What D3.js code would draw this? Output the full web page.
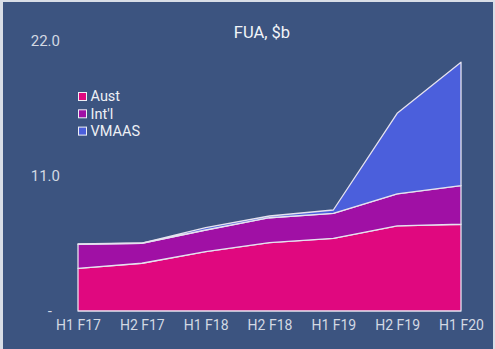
<!DOCTYPE html>
<html><head><meta charset="utf-8">
<script src="https://cdn.jsdelivr.net/npm/d3@7/dist/d3.min.js"></script>
<style>
html,body{margin:0;padding:0;background:#d9dee7;}
svg{display:block;font-family:Roboto,"Noto Sans",sans-serif;}
</style></head>
<body>
<svg id="c" width="495" height="349"></svg>
<script>
const categories = ["H1 F17","H2 F17","H1 F18","H2 F18","H1 F19","H2 F19","H1 F20"];
const aust  = [3.48, 3.89, 4.83, 5.57, 5.92, 6.93, 7.07];
const intl  = [1.96, 1.63, 1.77, 2.03, 2.04, 2.61, 3.14];
const vmaas = [0.02, 0.02, 0.19, 0.14, 0.27, 6.57, 10.06];
const seriesNames = ["Aust","Int'l","VMAAS"];
const colors = ["#e0087f","#a010a5","#4b5fdc"];
const yTicks = [0, 11, 22];
const title = "FUA, $b";

const svg = d3.select("#c");
svg.append("rect").attr("x",3).attr("y",2).attr("width",490).attr("height",347).attr("fill","#3c5480");

const rows = categories.map((c,i)=>({cat:c, "Aust":aust[i], "Int'l":intl[i], "VMAAS":vmaas[i]}));
const stack = d3.stack().keys(seriesNames)(rows);

const x = d3.scalePoint().domain(categories).range([78,461]);
const y = d3.scaleLinear().domain([0,22]).range([311,41]);

const area = d3.area().x(d=>x(d.data.cat)).y0(d=>y(d[0])).y1(d=>y(d[1]));

svg.append("g").selectAll("path").data(stack).join("path")
  .attr("d",area).attr("fill",(d,i)=>colors[i])
  .attr("stroke","#e6e3ef").attr("stroke-width",1.3).attr("stroke-linejoin","round");

svg.append("text").attr("x",262).attr("y",38).attr("text-anchor","middle")
  .attr("fill","#f2f4f8").attr("font-size",16.5).text(title);

const yAxis = d3.axisLeft(y).tickValues(yTicks).tickSize(0).tickPadding(0)
  .tickFormat(v=> v===0 ? "-" : d3.format(".1f")(v));
const gy = svg.append("g").attr("transform","translate(60,0)").call(yAxis);
gy.select(".domain").remove();
gy.selectAll("text").attr("fill","#d3d9e3").attr("font-size",15).attr("font-family","Roboto,sans-serif")
  .attr("x",d=> d===0 ? -8 : 0);

const xAxis = d3.axisBottom(x).tickSize(0).tickPadding(0);
const gx = svg.append("g").attr("transform","translate(0,320)").call(xAxis);
gx.select(".domain").remove();
gx.selectAll("text").attr("fill","#d3d9e3").attr("font-size",14).attr("font-family","Roboto,sans-serif");

const lg = svg.append("g").attr("transform","translate(78,92)");
seriesNames.forEach((n,i)=>{
  const g = lg.append("g").attr("transform",`translate(0,${i*17.3})`);
  g.append("rect").attr("x",0.5).attr("y",0.5).attr("width",8).attr("height",8)
    .attr("fill",colors[i]).attr("stroke","#eef0f5").attr("stroke-width",1);
  g.append("text").attr("x",12.5).attr("y",9.3).attr("fill","#eef0f5").attr("font-size",14.5).text(n);
});
</script>
</body></html>
